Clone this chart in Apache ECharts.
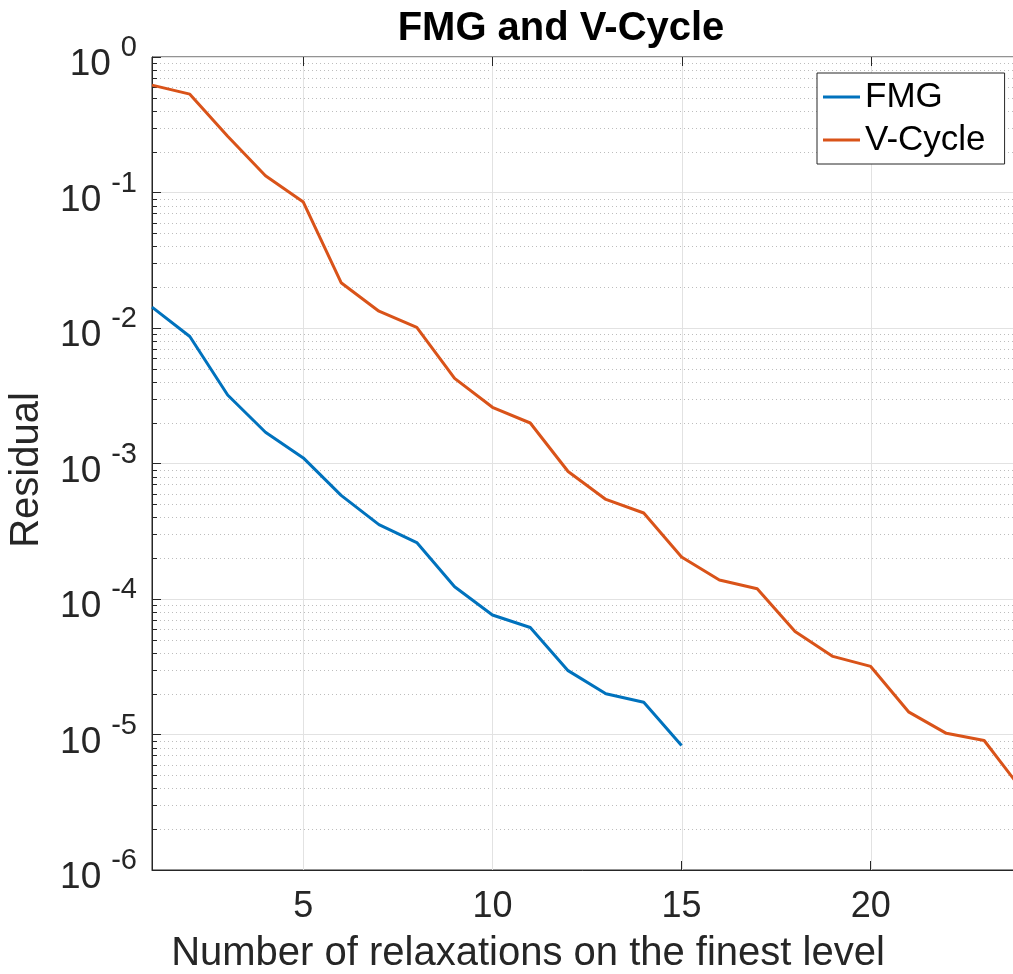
<!DOCTYPE html>
<html><head><meta charset="utf-8">
<script src="https://cdn.jsdelivr.net/npm/echarts@6/dist/echarts.min.js"></script>
<style>html,body{margin:0;padding:0;background:#fff}#c{width:1013px;height:974px}</style>
</head><body><div id="c"></div>
<script>
// ---- data ----
const fmgIterations = [1,2,3,4,5,6,7,8,9,10,11,12,13,14,15];
const fmgResidual = [0.01426, 0.00865, 0.0032, 0.0017, 0.0011, 0.000582, 0.000354, 0.000261, 0.000123, 7.62e-5, 6.16e-5, 2.96e-5, 2.0e-5, 1.73e-5, 8.3e-6];
const vcycleIterations = [1,2,3,4,5,6,7,8,9,10,11,12,13,14,15,16,17,18,19,20,21,22,23,24];
const vcycleResidual = [0.62, 0.532, 0.26, 0.133, 0.085, 0.0216, 0.0133, 0.0101, 0.00425, 0.0026, 0.00199, 0.000873, 0.000543, 0.000431, 0.000204, 0.000138, 0.000119, 5.76e-5, 3.77e-5, 3.18e-5, 1.47e-5, 1.02e-5, 9.03e-6, 3.9e-6];
const xTickValues = [5, 10, 15, 20];
const yTickExponents = [-6, -5, -4, -3, -2, -1, 0];
const yMin = 1e-6, yMax = 1;
const xMin = 1, xMax = 24;
const titleText = 'FMG and V-Cycle';
const xLabelText = 'Number of relaxations on the finest level';
const yLabelText = 'Residual';

// minor log tick positions (2..9 within each decade)
const minorY = [];
for (let e = -6; e < 0; e++) for (let k = 2; k <= 9; k++) minorY.push(k * Math.pow(10, e));

const FONT = '"Liberation Sans", Arial, Helvetica, sans-serif';
const AX = '#262626';
const BASE_FS = 37, SUP_FS = 29;

const decor = [];
minorY.forEach(v => decor.push([1, v, 0]));
xTickValues.forEach(v => decor.push([v, 1, 1]));

const chart = echarts.init(document.getElementById('c'), null, {renderer: 'canvas'});
const baseGraphics = [
  {type: 'text', z: 10, style: {text: titleText, x: 561, y: 29, align: 'center', verticalAlign: 'middle', fontSize: 40, fontWeight: 'bold', fill: '#000', fontFamily: FONT}},
  {type: 'text', z: 10, style: {text: xLabelText, x: 528, y: 954, align: 'center', verticalAlign: 'middle', fontSize: 40, fill: AX, fontFamily: FONT}},
  {type: 'text', z: 10, x: 27, y: 470, rotation: Math.PI / 2, style: {text: yLabelText, x: 0, y: 0, align: 'center', verticalAlign: 'middle', fontSize: 40, fill: AX, fontFamily: FONT}}
];
chart.setOption({
  animation: false,
  backgroundColor: '#fff',
  textStyle: {fontFamily: FONT},
  grid: {left: 152, top: 57, width: 870, bottom: 104, outerBoundsMode: 'none', containLabel: false, show: true, borderColor: AX, borderWidth: 1, backgroundColor: 'transparent'},
  xAxis: {
    type: 'value', min: xMin, max: xMax,
    axisLine: {show: true, lineStyle: {color: AX, width: 1}},
    axisTick: {show: true, inside: true, length: 9, customValues: xTickValues, lineStyle: {color: AX}},
    axisLabel: {show: true, customValues: xTickValues, fontSize: 36, color: AX, fontFamily: FONT, margin: 19},
    splitLine: {show: false}
  },
  yAxis: {
    type: 'log', logBase: 10, min: yMin, max: yMax, interval: 1,
    axisLine: {show: true, lineStyle: {color: AX, width: 1}},
    axisTick: {show: true, inside: true, length: 9, lineStyle: {color: AX}},
    splitLine: {show: true, lineStyle: {color: '#e2e2e2', width: 1}},
    minorTick: {show: false}, minorSplitLine: {show: false},
    axisLabel: {show: false}
  },
  legend: {
    orient: 'vertical', left: 817, top: 73, padding: [6, 19, 6, 6], itemGap: 7,
    itemWidth: 37, itemHeight: 3, icon: 'rect',
    borderColor: AX, borderWidth: 1, backgroundColor: '#fff', borderRadius: 0,
    textStyle: {fontSize: 35, color: '#000', fontFamily: FONT, lineHeight: 36},
    data: ['FMG', 'V-Cycle'], z: 10
  },
  graphic: baseGraphics,
  series: [
    {
      type: 'custom', name: 'decor', silent: true, z: 1, coordinateSystem: 'cartesian2d',
      encode: {x: 0, y: 1}, clip: false,
      data: decor,
      renderItem: function (params, api) {
        const cs = params.coordSys;
        const kind = api.value(2);
        if (kind === 0) {
          let y = Math.round(api.coord([1, api.value(1)])[1]) + 0.5;
          return {type: 'group', children: [
            {type: 'line', shape: {x1: cs.x, y1: y, x2: cs.x + cs.width, y2: y}, style: {stroke: '#bdbdbd', lineWidth: 1, lineDash: [1, 3]}},
            {type: 'line', shape: {x1: cs.x, y1: y, x2: cs.x + 5, y2: y}, style: {stroke: AX, lineWidth: 1}}
          ]};
        } else {
          let x = Math.round(api.coord([api.value(0), 1])[0]) + 0.5;
          return {type: 'group', children: [
            {type: 'line', shape: {x1: x, y1: cs.y, x2: x, y2: cs.y + cs.height}, style: {stroke: '#e2e2e2', lineWidth: 1}},
            {type: 'line', shape: {x1: x, y1: cs.y, x2: x, y2: cs.y + 9}, style: {stroke: AX, lineWidth: 1}}
          ]};
        }
      }
    },
    {
      type: 'line', name: 'FMG', z: 3, symbol: 'none', color: '#0072BD',
      lineStyle: {width: 3, color: '#0072BD'},
      data: fmgIterations.map((x, i) => [x, fmgResidual[i]])
    },
    {
      type: 'line', name: 'V-Cycle', z: 3, symbol: 'none', color: '#D95319',
      lineStyle: {width: 3, color: '#D95319'},
      data: vcycleIterations.map((x, i) => [x, vcycleResidual[i]])
    }
  ]
});

// y tick labels as 10^e, positioned through the axis scale
const mctx = document.createElement('canvas').getContext('2d');
mctx.font = SUP_FS + 'px "Liberation Sans", Arial, sans-serif';
const labelRight = 137, supGap = 10;
const yLabelGraphics = [];
yTickExponents.forEach(e => {
  const py = chart.convertToPixel({yAxisIndex: 0}, Math.pow(10, e));
  const sup = String(e);
  const w = mctx.measureText(sup).width;
  const supX = labelRight - w;
  yLabelGraphics.push({type: 'text', z: 10, silent: true, style: {text: sup, x: supX, y: py - 9, align: 'left', verticalAlign: 'middle', fontSize: SUP_FS, fill: AX, fontFamily: FONT}});
  yLabelGraphics.push({type: 'text', z: 10, silent: true, style: {text: '10', x: supX - supGap, y: py + 8, align: 'right', verticalAlign: 'middle', fontSize: BASE_FS, fill: AX, fontFamily: FONT}});
});
chart.setOption({graphic: baseGraphics.concat(yLabelGraphics)});
</script>
</body></html>
